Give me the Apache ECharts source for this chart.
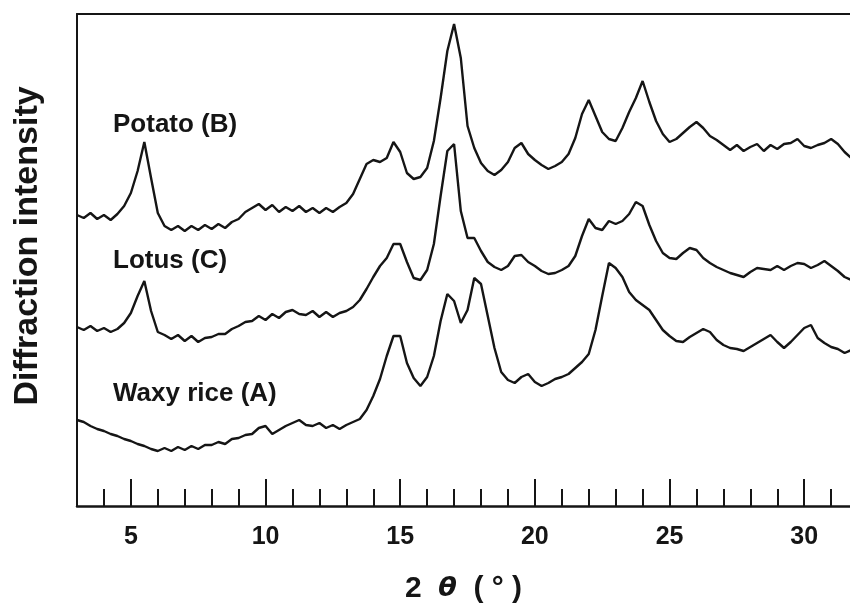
<!DOCTYPE html>
<html lang="en">
<head>
  <meta charset="UTF-8">
  <title>Diffraction</title>
  <script src="https://cdn.jsdelivr.net/npm/echarts@6/dist/echarts.min.js"></script>
  <style>
    html, body { margin: 0; background: #ffffff; }
    #main { width: 850px; height: 611px; }
  </style>
</head>
<body>
  <div id="main"></div>
  <script type="text/javascript">
    // 2theta grid: first angle and step (degrees)
    var thetaStart = 3.0;
    var thetaStep = 0.25;

    // intensities, one value per step, offset curves
    var potato = [
      291, 288, 293, 287, 291, 286, 292, 300, 313, 335, 364, 328, 293, 280, 276, 280,
      275, 280, 276, 281, 277, 282, 278, 284, 287, 294, 298, 302, 296, 301, 294, 299,
      295, 300, 294, 298, 293, 298, 294, 299, 303, 312, 327, 342, 346, 344, 348, 364,
      354, 333, 327, 329, 338, 365, 408, 455, 482, 448, 380, 358, 343, 335, 331, 336,
      344, 358, 363, 352, 346, 341, 337, 340, 344, 352, 368, 392, 406, 390, 374, 367,
      365, 378, 394, 408, 425, 404, 385, 372, 364, 367, 373, 379, 384, 378, 370, 366,
      361, 356, 361, 355, 359, 362, 355, 361, 357, 362, 363, 367, 360, 358, 361, 363,
      367, 362, 354, 348
    ];
    var lotus = [
      179, 176, 180, 175, 178, 174, 177, 183, 193, 210, 225, 195, 174, 171, 167, 171,
      165, 170, 164, 168, 169, 172, 172, 177, 180, 184, 185, 190, 186, 192, 188, 194,
      196, 192, 191, 195, 189, 194, 189, 193, 195, 199, 206, 217, 229, 240, 248, 262,
      262, 244, 228, 226, 236, 262, 310, 355, 362, 295, 268, 268, 255, 244, 239, 236,
      240, 250, 251, 244, 240, 235, 232, 233, 236, 240, 250, 270, 287, 278, 276, 285,
      282, 285, 292, 304, 300, 281, 265, 253, 248, 247, 253, 258, 256, 248, 243, 239,
      236, 233, 231, 229, 234, 238, 237, 236, 240, 236, 240, 243, 242, 238, 241, 245,
      240, 235, 229, 226
    ];
    var waxyRice = [
      86, 84, 80, 77, 75, 72, 70, 67, 65, 62, 60, 57, 55, 58, 55, 59,
      56, 60, 57, 61, 61, 64, 62, 67, 68, 71, 72, 78, 80, 72, 76, 80,
      83, 86, 81, 80, 83, 78, 81, 77, 81, 84, 87, 96, 110, 127, 150, 170,
      170, 143, 128, 120, 129, 150, 185, 212, 205, 183, 196, 228, 222, 190, 158, 134,
      126, 123, 129, 132, 124, 120, 123, 127, 129, 132, 138, 144, 152, 176, 210, 243,
      238, 229, 214, 206, 201, 196, 186, 176, 170, 165, 164, 169, 173, 177, 174, 166,
      161, 158, 157, 155, 159, 163, 167, 171, 164, 158, 164, 171, 178, 181, 168, 163,
      159, 157, 153, 156
    ];

    var majorTicks = [5, 10, 15, 20, 25, 30];
    var minorTicks = [4, 5, 6, 7, 8, 9, 10, 11, 12, 13, 14, 15, 16, 17, 18, 19, 20,
                      21, 22, 23, 24, 25, 26, 27, 28, 29, 30, 31];
    var sampleNames = ['Potato (B)', 'Lotus (C)', 'Waxy rice (A)'];

    function toPairs(values) {
      var out = [];
      for (var i = 0; i < values.length; i++) {
        out.push([thetaStart + i * thetaStep, values[i]]);
      }
      return out;
    }

    var ink = '#151515';
    var xMin = 3, xMax = 31.7;

    function lineSeries(name, values) {
      return {
        name: name,
        type: 'line',
        data: toPairs(values),
        symbol: 'none',
        smooth: false,
        lineStyle: { color: ink, width: 2.4 },
        silent: true
      };
    }

    var myChart = echarts.init(document.getElementById('main'));

    var option = {
      animation: false,
      backgroundColor: '#ffffff',
      grid: {
        left: 77,
        top: 14,
        right: 0,
        bottom: 105,
        show: false
      },
      xAxis: [
        {
          type: 'value',
          min: xMin,
          max: xMax,
          name: '{n|2  }{t|θ}{n|  ( ° )}',
          nameLocation: 'middle',
          nameGap: 68,
          nameTextStyle: {
            rich: {
              n: { fontFamily: 'Liberation Sans', fontWeight: 'bold', fontSize: 30, color: ink },
              t: { fontFamily: 'DejaVu Sans', fontStyle: 'italic', fontWeight: 'bold', fontSize: 27, color: ink }
            }
          },
          axisLine: { show: true, lineStyle: { color: ink, width: 2.5 } },
          axisTick: {
            show: true,
            inside: true,
            length: 17,
            customValues: minorTicks,
            lineStyle: { color: ink, width: 2 }
          },
          axisLabel: {
            customValues: majorTicks,
            margin: 19,
            fontFamily: 'Liberation Sans',
            fontWeight: 'bold',
            fontSize: 25,
            color: ink
          },
          splitLine: { show: false }
        },
        {
          // longer ticks at the labelled angles
          type: 'value',
          min: xMin,
          max: xMax,
          position: 'bottom',
          axisLine: { show: false },
          axisTick: {
            show: true,
            inside: true,
            length: 27,
            customValues: majorTicks,
            lineStyle: { color: ink, width: 2 }
          },
          axisLabel: { show: false },
          splitLine: { show: false }
        },
        {
          // top frame line
          type: 'value',
          min: xMin,
          max: xMax,
          position: 'top',
          axisLine: { show: true, lineStyle: { color: ink, width: 2 } },
          axisTick: { show: false },
          axisLabel: { show: false },
          splitLine: { show: false }
        }
      ],
      yAxis: {
        type: 'value',
        min: 0,
        max: 492,
        axisLine: { show: true, lineStyle: { color: ink, width: 2 } },
        axisTick: { show: false },
        axisLabel: { show: false },
        splitLine: { show: false }
      },
      graphic: [
        {
          type: 'text',
          x: 28,
          y: 246,
          rotation: Math.PI / 2,
          style: {
            text: 'Diffraction intensity',
            fontFamily: 'Liberation Sans',
            fontWeight: 'bold',
            fontSize: 34,
            fill: ink,
            align: 'center',
            verticalAlign: 'middle'
          }
        },
        {
          type: 'text', x: 113, y: 125,
          style: { text: sampleNames[0], fontFamily: 'Liberation Sans', fontWeight: 'bold', fontSize: 26, fill: ink, verticalAlign: 'middle' }
        },
        {
          type: 'text', x: 113, y: 261,
          style: { text: sampleNames[1], fontFamily: 'Liberation Sans', fontWeight: 'bold', fontSize: 26, fill: ink, verticalAlign: 'middle' }
        },
        {
          type: 'text', x: 113, y: 394,
          style: { text: sampleNames[2], fontFamily: 'Liberation Sans', fontWeight: 'bold', fontSize: 26, fill: ink, verticalAlign: 'middle' }
        }
      ],
      series: [
        lineSeries(sampleNames[0], potato),
        lineSeries(sampleNames[1], lotus),
        lineSeries(sampleNames[2], waxyRice)
      ]
    };

    myChart.setOption(option);
  </script>
</body>
</html>
